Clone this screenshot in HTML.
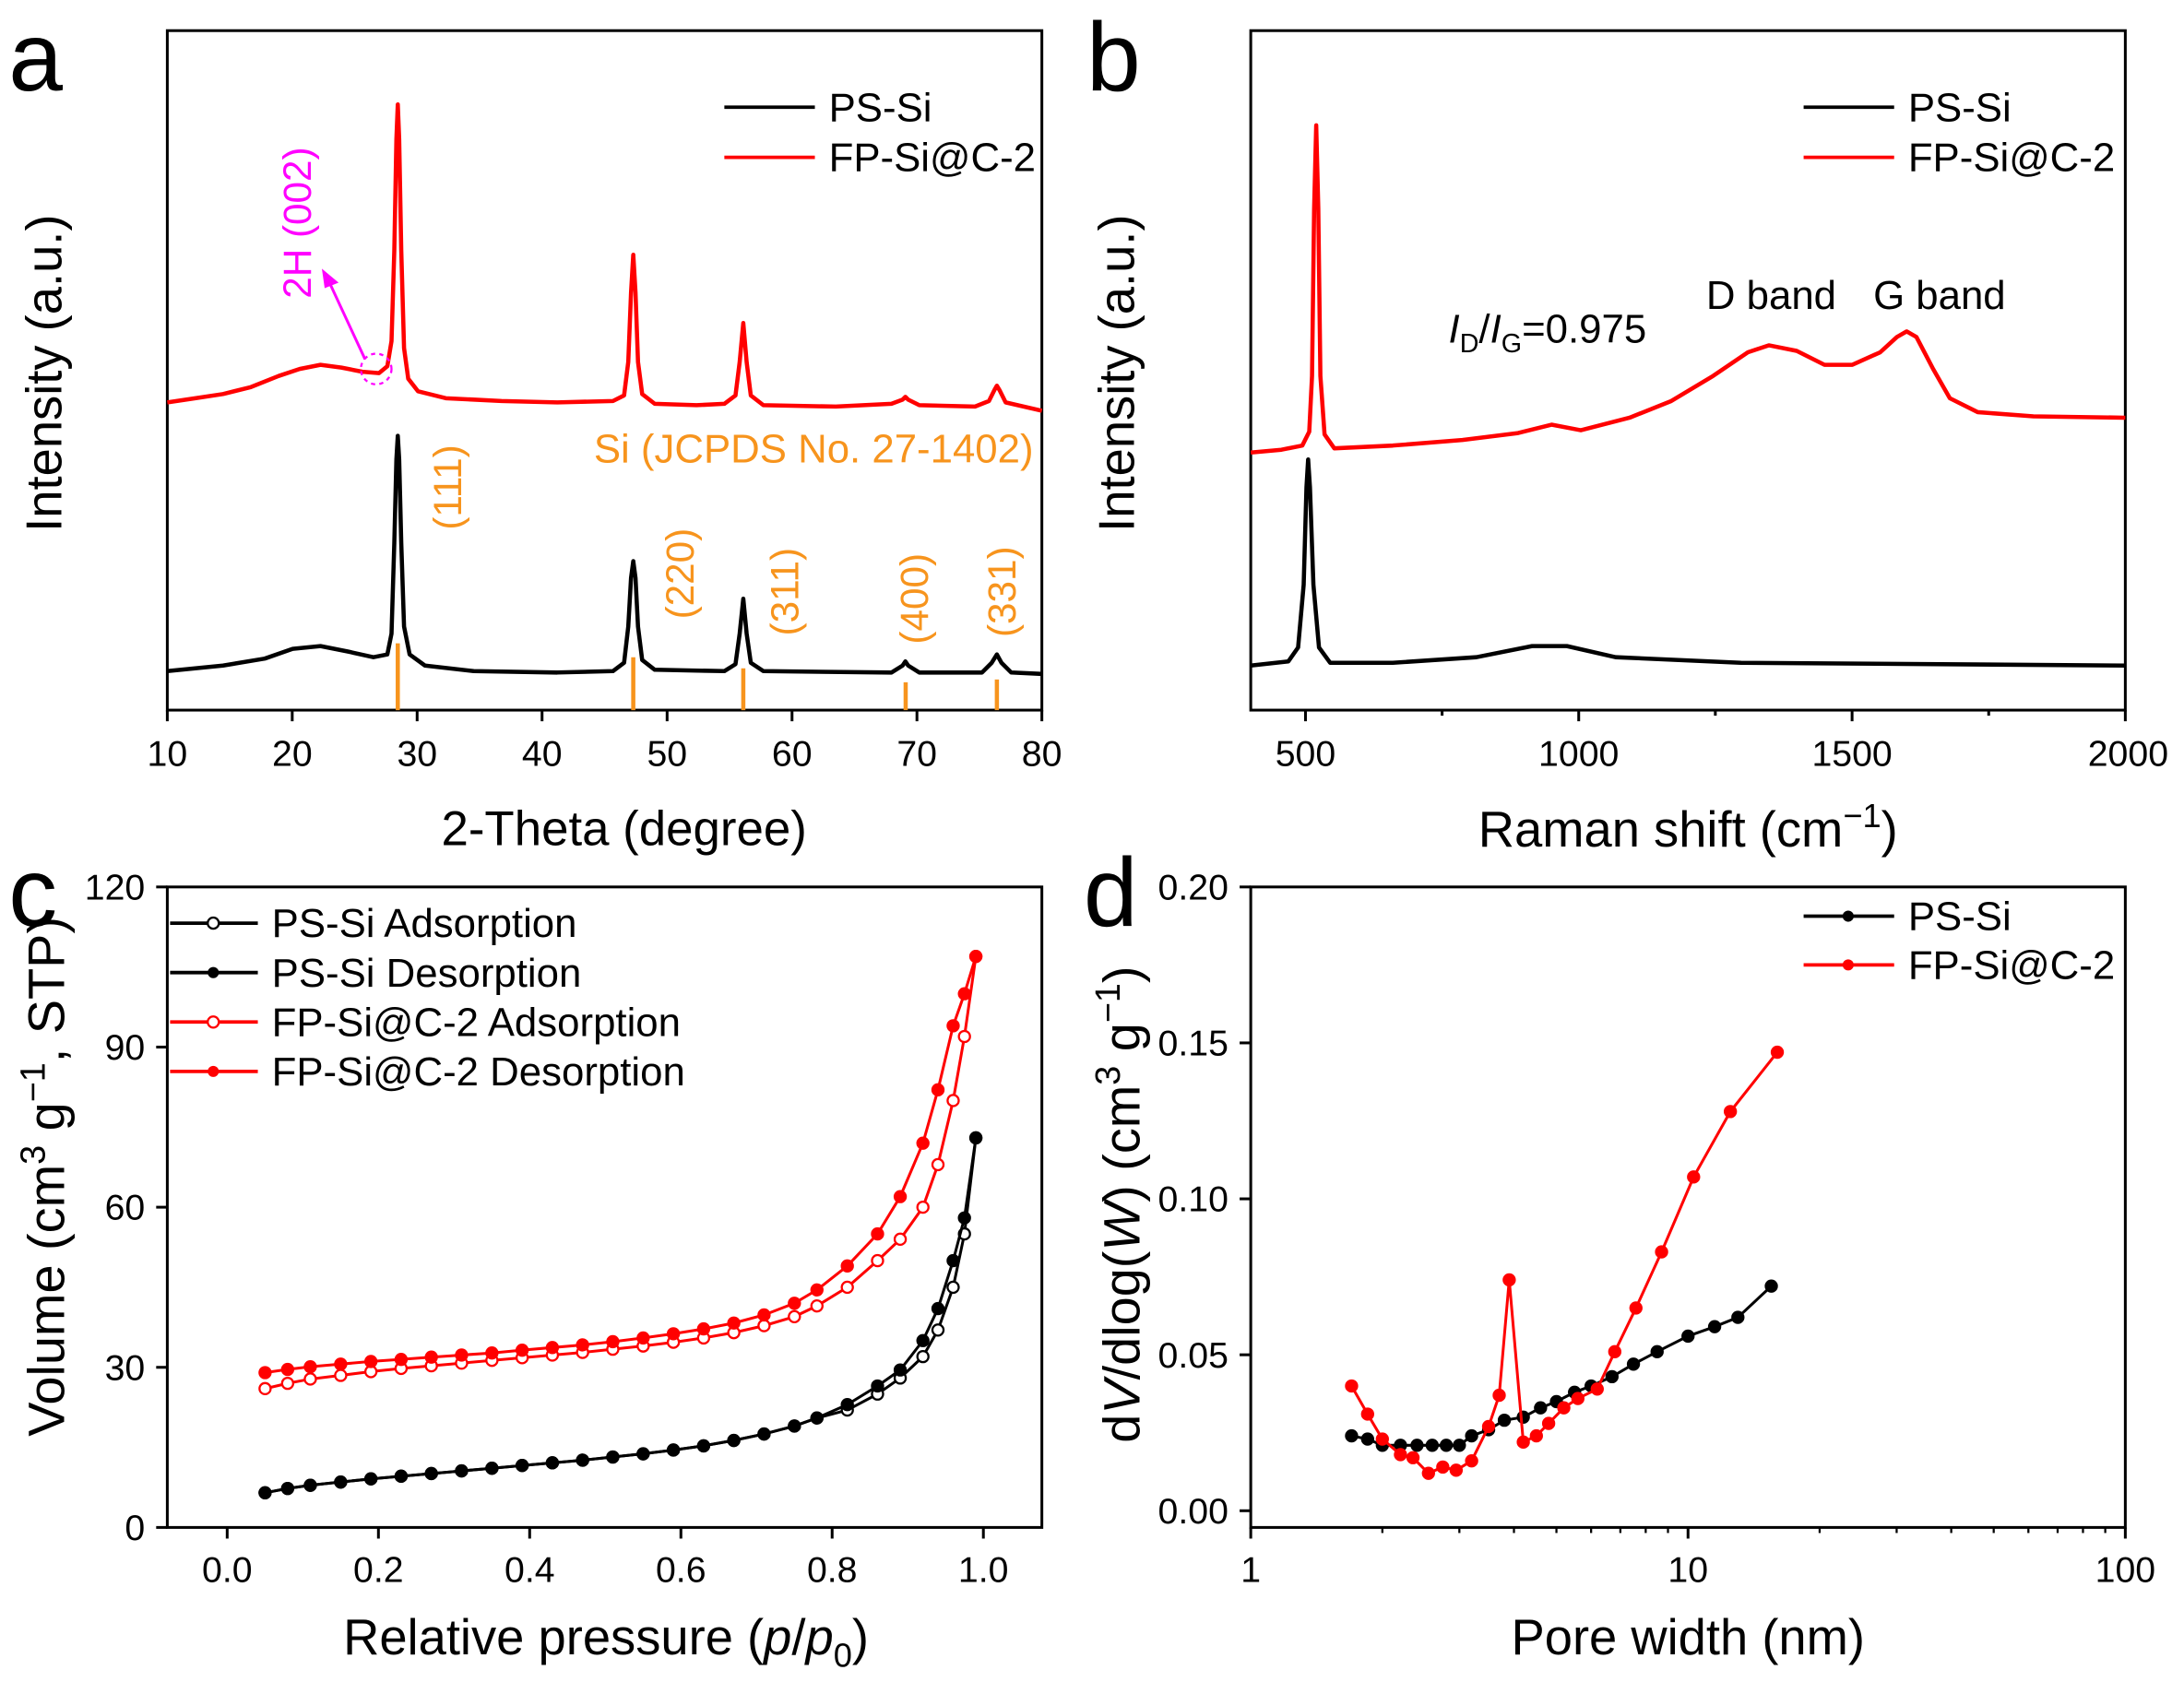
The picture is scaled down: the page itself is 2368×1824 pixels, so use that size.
<!DOCTYPE html>
<html><head><meta charset="utf-8"><style>
html,body{margin:0;padding:0;background:#fff}
svg{display:block}
text{font-family:"Liberation Sans",Arial,sans-serif}
</style></head><body>
<svg width="2368" height="1824" viewBox="0 0 1568 1208" xmlns="http://www.w3.org/2000/svg">
<defs>
<marker id="kf" markerUnits="userSpaceOnUse" markerWidth="12" markerHeight="12" refX="6" refY="6"><circle cx="6" cy="6" r="4" fill="#000" stroke="#000" stroke-width="1.5"/></marker>
<marker id="ko" markerUnits="userSpaceOnUse" markerWidth="12" markerHeight="12" refX="6" refY="6"><circle cx="6" cy="6" r="4" fill="#fff" stroke="#000" stroke-width="1.5"/></marker>
<marker id="rf" markerUnits="userSpaceOnUse" markerWidth="12" markerHeight="12" refX="6" refY="6"><circle cx="6" cy="6" r="4" fill="#f00" stroke="#f00" stroke-width="1.5"/></marker>
<marker id="ro" markerUnits="userSpaceOnUse" markerWidth="12" markerHeight="12" refX="6" refY="6"><circle cx="6" cy="6" r="4" fill="#fff" stroke="#f00" stroke-width="1.5"/></marker>
</defs>
<rect width="1568" height="1208" fill="#fff"/>

<!-- Panel a -->
<rect x="120" y="22" width="628" height="488" fill="none" stroke="#000" stroke-width="2"/>
<g stroke="#000" stroke-width="2">
<line x1="120" y1="510" x2="120" y2="518"/><line x1="209.7" y1="510" x2="209.7" y2="518"/><line x1="299.4" y1="510" x2="299.4" y2="518"/><line x1="389.1" y1="510" x2="389.1" y2="518"/><line x1="478.9" y1="510" x2="478.9" y2="518"/><line x1="568.6" y1="510" x2="568.6" y2="518"/><line x1="658.3" y1="510" x2="658.3" y2="518"/><line x1="748" y1="510" x2="748" y2="518"/>
</g>
<g font-size="26" text-anchor="middle">
<text x="120" y="550">10</text><text x="209.7" y="550">20</text><text x="299.4" y="550">30</text><text x="389.1" y="550">40</text><text x="478.9" y="550">50</text><text x="568.6" y="550">60</text><text x="658.3" y="550">70</text><text x="748" y="550">80</text>
</g>
<path d="M120,289 L140,286 L160,283 L180,278 L200,270 L215,265 L230,262 L245,264 L260,267 L272,268 L278,263 L281,245 L283,180 L284.5,100 L285.5,75 L286.5,100 L288,180 L290,250 L293,272 L300,281 L320,286 L360,288 L400,289 L440,288 L448,284 L451,260 L453,210 L454.6,183 L456.2,210 L458,260 L461,283 L470,290 L500,291 L520,290 L528,284 L531,260 L533.6,232 L536,260 L539,284 L548,291 L600,292 L640,290 L648,287 L650,285 L652,287 L660,291 L700,292 L710,288 L714,280 L715.7,277 L717.5,280 L722,289 L748,295" fill="none" stroke="#f00" stroke-width="3" stroke-linejoin="round"/>
<path d="M120,482 L160,478 L190,473 L210,466 L230,464 L250,468 L268,472 L278,470 L281,455 L283,390 L284.5,330 L285.5,313 L286.5,330 L288,390 L290,450 L294,470 L305,478 L340,482 L400,483 L440,482 L448,476 L451,450 L453,415 L454.6,403 L456.2,415 L458,450 L461,474 L470,481 L520,482 L528,477 L531,455 L533.6,430 L536,455 L539,476 L548,482 L640,483 L648,478 L650,475 L652,478 L660,483 L705,483 L712,476 L715.7,470 L719,476 L726,483 L748,484" fill="none" stroke="#000" stroke-width="3" stroke-linejoin="round"/>
<g stroke="#f7941d" stroke-width="3">
<line x1="285.5" y1="462" x2="285.5" y2="510"/><line x1="454.6" y1="472" x2="454.6" y2="510"/><line x1="533.6" y1="480" x2="533.6" y2="510"/><line x1="650.2" y1="490" x2="650.2" y2="510"/><line x1="715.7" y1="488" x2="715.7" y2="510"/>
</g>
<text x="742" y="332" font-size="29" fill="#f7941d" text-anchor="end">Si (JCPDS No. 27-1402)</text>
<g font-size="28" fill="#f7941d" text-anchor="middle">
<text transform="translate(331 350) rotate(-90)">(111)</text>
<text transform="translate(498 412) rotate(-90)">(220)</text>
<text transform="translate(573 425) rotate(-90)">(311)</text>
<text transform="translate(666 430) rotate(-90)">(400)</text>
<text transform="translate(729 425) rotate(-90)">(331)</text>
</g>
<text transform="translate(223 160) rotate(-90)" font-size="28" fill="#f0f" text-anchor="middle">2H (002)</text>
<circle cx="270" cy="265" r="11" fill="none" stroke="#f0f" stroke-width="1.5" stroke-dasharray="3,3"/>
<line x1="262" y1="258" x2="236" y2="202" stroke="#f0f" stroke-width="2"/>
<polygon points="231,193 243,203 233,207" fill="#f0f"/>
<line x1="520" y1="77" x2="585" y2="77" stroke="#000" stroke-width="2.5"/><text x="595" y="87" font-size="29">PS-Si</text>
<line x1="520" y1="113" x2="585" y2="113" stroke="#f00" stroke-width="2.5"/><text x="595" y="123" font-size="29">FP-Si@C-2</text>
<text x="448" y="607" font-size="35" text-anchor="middle">2-Theta (degree)</text>
<text transform="translate(44 268) rotate(-90)" font-size="36" text-anchor="middle">Intensity (a.u.)</text>
<text x="6" y="65" font-size="70">a</text>

<!-- Panel b -->
<rect x="898" y="22" width="628" height="488" fill="none" stroke="#000" stroke-width="2"/>
<g stroke="#000" stroke-width="2">
<line x1="937.3" y1="510" x2="937.3" y2="518"/><line x1="1133.5" y1="510" x2="1133.5" y2="518"/><line x1="1329.8" y1="510" x2="1329.8" y2="518"/><line x1="1526" y1="510" x2="1526" y2="518"/>
<line x1="1035.4" y1="510" x2="1035.4" y2="514"/><line x1="1231.6" y1="510" x2="1231.6" y2="514"/><line x1="1427.9" y1="510" x2="1427.9" y2="514"/>
</g>
<g font-size="26" text-anchor="middle">
<text x="937.3" y="550">500</text><text x="1133.5" y="550">1000</text><text x="1329.8" y="550">1500</text><text x="1528" y="550">2000</text>
</g>
<path d="M898,325 L920,323 L935,320 L940,310 L942,270 L943.5,150 L945,90 L946.5,150 L948,270 L951,312 L958,322 L1000,320 L1050,316 L1090,311 L1114,305 L1135,309 L1170,300 L1200,288 L1230,270 L1255,253 L1270,248 L1290,252 L1310,262 L1330,262 L1350,253 L1362,242 L1369,238 L1376,242 L1388,265 L1400,286 L1420,296 L1460,299 L1526,300" fill="none" stroke="#f00" stroke-width="3" stroke-linejoin="round"/>
<path d="M898,478 L925,475 L932,465 L936,420 L938,350 L939.2,330 L940.5,350 L943,420 L947,465 L955,476 L1000,476 L1060,472 L1100,464 L1125,464 L1160,472 L1250,476 L1526,478" fill="none" stroke="#000" stroke-width="3" stroke-linejoin="round"/>
<line x1="1295" y1="77" x2="1360" y2="77" stroke="#000" stroke-width="2.5"/><text x="1370" y="87" font-size="29">PS-Si</text>
<line x1="1295" y1="113" x2="1360" y2="113" stroke="#f00" stroke-width="2.5"/><text x="1370" y="123" font-size="29">FP-Si@C-2</text>
<text x="1040" y="246" font-size="29"><tspan font-style="italic">I</tspan><tspan font-size="19" dy="7">D</tspan><tspan dy="-7">/</tspan><tspan font-style="italic">I</tspan><tspan font-size="19" dy="7">G</tspan><tspan dy="-7">=0.975</tspan></text>
<text x="1225" y="222" font-size="29">D band</text><text x="1345" y="222" font-size="29">G band</text>
<text x="1212" y="608" font-size="36" text-anchor="middle">Raman shift (cm<tspan font-size="24" dy="-14">−1</tspan><tspan dy="14">)</tspan></text>
<text transform="translate(814 268) rotate(-90)" font-size="36" text-anchor="middle">Intensity (a.u.)</text>
<text x="780" y="65" font-size="70">b</text>

<!-- Panel c -->
<rect x="120" y="637" width="628" height="460" fill="none" stroke="#000" stroke-width="2"/>
<g stroke="#000" stroke-width="2">
<line x1="163" y1="1097" x2="163" y2="1105"/><line x1="271.6" y1="1097" x2="271.6" y2="1105"/><line x1="380.2" y1="1097" x2="380.2" y2="1105"/><line x1="488.8" y1="1097" x2="488.8" y2="1105"/><line x1="597.4" y1="1097" x2="597.4" y2="1105"/><line x1="706" y1="1097" x2="706" y2="1105"/>
<line x1="112" y1="1097" x2="120" y2="1097"/><line x1="112" y1="982" x2="120" y2="982"/><line x1="112" y1="867" x2="120" y2="867"/><line x1="112" y1="752" x2="120" y2="752"/><line x1="112" y1="637" x2="120" y2="637"/>
</g>
<g font-size="26" text-anchor="middle">
<text x="163" y="1136">0.0</text><text x="271.6" y="1136">0.2</text><text x="380.2" y="1136">0.4</text><text x="488.8" y="1136">0.6</text><text x="597.4" y="1136">0.8</text><text x="706" y="1136">1.0</text>
</g>
<g font-size="26" text-anchor="end">
<text x="104" y="1106">0</text><text x="104" y="991">30</text><text x="104" y="876">60</text><text x="104" y="761">90</text><text x="104" y="646">120</text>
</g>
<polyline fill="none" stroke="#000" stroke-width="2" marker-start="url(#ko)" marker-mid="url(#ko)" marker-end="url(#ko)" points="190.2,1072.1 206.4,1069.0 222.7,1066.7 244.5,1064.4 266.2,1062.1 287.9,1060.2 309.6,1058.3 331.3,1056.4 353.1,1054.5 374.8,1052.5 396.5,1050.6 418.2,1048.7 439.9,1046.4 461.7,1044.1 483.4,1041.4 505.1,1038.4 526.8,1034.5 548.5,1029.9 570.3,1024.2 586.5,1018.4 608.3,1012.7 630.0,1001.2 646.3,989.7 662.6,974.3 673.4,955.2 684.3,924.5 692.4,886.2 700.6,817.2"/>
<polyline fill="none" stroke="#000" stroke-width="2" marker-start="url(#kf)" marker-mid="url(#kf)" marker-end="url(#kf)" points="190.2,1072.1 206.4,1069.0 222.7,1066.7 244.5,1064.4 266.2,1062.1 287.9,1060.2 309.6,1058.3 331.3,1056.4 353.1,1054.5 374.8,1052.5 396.5,1050.6 418.2,1048.7 439.9,1046.4 461.7,1044.1 483.4,1041.4 505.1,1038.4 526.8,1034.5 548.5,1029.9 570.3,1024.2 586.5,1018.4 608.3,1008.8 630.0,995.4 646.3,983.9 662.6,962.8 673.4,939.8 684.3,905.4 692.4,874.7 700.6,817.2"/>
<polyline fill="none" stroke="#f00" stroke-width="2" marker-start="url(#ro)" marker-mid="url(#ro)" marker-end="url(#ro)" points="190.2,997.3 206.4,993.5 222.7,990.4 244.5,987.8 266.2,985.1 287.9,982.8 309.6,980.9 331.3,979.0 353.1,977.0 374.8,975.1 396.5,973.2 418.2,971.3 439.9,969.0 461.7,966.7 483.4,964.0 505.1,960.9 526.8,957.1 548.5,952.1 570.3,945.6 586.5,937.9 608.3,924.5 630.0,905.4 646.3,890.0 662.6,867.0 673.4,836.4 684.3,790.4 692.4,744.4 700.6,686.9"/>
<polyline fill="none" stroke="#f00" stroke-width="2" marker-start="url(#rf)" marker-mid="url(#rf)" marker-end="url(#rf)" points="190.2,985.8 206.4,983.5 222.7,981.6 244.5,979.7 266.2,977.8 287.9,976.3 309.6,974.7 331.3,973.2 353.1,971.7 374.8,969.7 396.5,967.8 418.2,965.9 439.9,963.6 461.7,960.9 483.4,957.9 505.1,954.4 526.8,950.2 548.5,944.4 570.3,936.0 586.5,926.4 608.3,909.2 630.0,886.2 646.3,859.4 662.6,821.0 673.4,782.7 684.3,736.7 692.4,713.7 700.6,686.9"/>
<line x1="122" y1="663" x2="185" y2="663" stroke="#000" stroke-width="2.5"/><circle cx="153" cy="663" r="4" fill="#fff" stroke="#000" stroke-width="1.5"/><text x="195" y="673" font-size="29">PS-Si Adsorption</text>
<line x1="122" y1="698.5" x2="185" y2="698.5" stroke="#000" stroke-width="2.5"/><circle cx="153" cy="698.5" r="4" fill="#000"/><text x="195" y="708.5" font-size="29">PS-Si Desorption</text>
<line x1="122" y1="734" x2="185" y2="734" stroke="#f00" stroke-width="2.5"/><circle cx="153" cy="734" r="4" fill="#fff" stroke="#f00" stroke-width="1.5"/><text x="195" y="744" font-size="29">FP-Si@C-2 Adsorption</text>
<line x1="122" y1="769.5" x2="185" y2="769.5" stroke="#f00" stroke-width="2.5"/><circle cx="153" cy="769.5" r="4" fill="#f00"/><text x="195" y="779.5" font-size="29">FP-Si@C-2 Desorption</text>
<text x="435" y="1188" font-size="36" text-anchor="middle">Relative pressure (<tspan font-style="italic">p</tspan>/<tspan font-style="italic">p</tspan><tspan font-size="24" dy="9">0</tspan><tspan dy="-9">)</tspan></text>
<text transform="translate(46 845) rotate(-90)" font-size="37" text-anchor="middle">Volume (cm<tspan font-size="25" dy="-14">3</tspan><tspan dy="14"> g</tspan><tspan font-size="25" dy="-14">−1</tspan><tspan dy="14">, STP)</tspan></text>
<text x="6" y="665" font-size="70">c</text>

<!-- Panel d -->
<rect x="898" y="637" width="628" height="460" fill="none" stroke="#000" stroke-width="2"/>
<g stroke="#000" stroke-width="2">
<line x1="898" y1="1097" x2="898" y2="1105"/><line x1="1212" y1="1097" x2="1212" y2="1105"/><line x1="1526" y1="1097" x2="1526" y2="1105"/>
<line x1="890" y1="1085" x2="898" y2="1085"/><line x1="890" y1="973" x2="898" y2="973"/><line x1="890" y1="861" x2="898" y2="861"/><line x1="890" y1="749" x2="898" y2="749"/><line x1="890" y1="637" x2="898" y2="637"/>
</g>
<g stroke="#000" stroke-width="1.5">
<line x1="992.5" y1="1097" x2="992.5" y2="1101"/><line x1="1047.8" y1="1097" x2="1047.8" y2="1101"/><line x1="1087" y1="1097" x2="1087" y2="1101"/><line x1="1117.5" y1="1097" x2="1117.5" y2="1101"/><line x1="1142.4" y1="1097" x2="1142.4" y2="1101"/><line x1="1163.4" y1="1097" x2="1163.4" y2="1101"/><line x1="1181.6" y1="1097" x2="1181.6" y2="1101"/><line x1="1197.6" y1="1097" x2="1197.6" y2="1101"/>
<line x1="1306.5" y1="1097" x2="1306.5" y2="1101"/><line x1="1361.8" y1="1097" x2="1361.8" y2="1101"/><line x1="1401" y1="1097" x2="1401" y2="1101"/><line x1="1431.5" y1="1097" x2="1431.5" y2="1101"/><line x1="1456.4" y1="1097" x2="1456.4" y2="1101"/><line x1="1477.4" y1="1097" x2="1477.4" y2="1101"/><line x1="1495.6" y1="1097" x2="1495.6" y2="1101"/><line x1="1511.6" y1="1097" x2="1511.6" y2="1101"/>
</g>
<g font-size="26" text-anchor="middle">
<text x="898" y="1136">1</text><text x="1212" y="1136">10</text><text x="1526" y="1136">100</text>
</g>
<g font-size="26" text-anchor="end">
<text x="882" y="1094">0.00</text><text x="882" y="982">0.05</text><text x="882" y="870">0.10</text><text x="882" y="758">0.15</text><text x="882" y="646">0.20</text>
</g>
<polyline fill="none" stroke="#000" stroke-width="2" marker-start="url(#kf)" marker-mid="url(#kf)" marker-end="url(#kf)" points="970.4,1031.2 981.9,1033.5 992.5,1038 1005.5,1038 1017.4,1038 1028.3,1038 1038.4,1038 1047.8,1038 1056.6,1031.2 1068.8,1026.8 1080.1,1020 1093.7,1017.8 1106.1,1011.1 1117.5,1006.6 1130.5,999.9 1142.4,995.4 1157.4,988.7 1172.8,979.7 1189.8,970.8 1212,959.6 1231.1,952.8 1247.8,946.1 1271.8,923.7"/>
<polyline fill="none" stroke="#f00" stroke-width="2" marker-start="url(#rf)" marker-mid="url(#rf)" marker-end="url(#rf)" points="970.4,995.4 981.9,1015.6 992.5,1033.5 1005.5,1044.7 1014.5,1046.9 1025.6,1058.1 1035.9,1053.6 1045.5,1055.9 1056.6,1049.2 1068.8,1024.5 1076.4,1002.1 1083.6,919.2 1093.7,1035.7 1103.1,1031.2 1111.9,1022.3 1122.8,1011.1 1132.9,1004.4 1146.8,997.6 1159.4,970.8 1174.6,939.4 1193,899.1 1216,845.3 1242.4,798.3 1276.1,755.7"/>
<line x1="1295" y1="658" x2="1360" y2="658" stroke="#000" stroke-width="2.5"/><circle cx="1327" cy="658" r="4" fill="#000"/><text x="1370" y="668" font-size="29">PS-Si</text>
<line x1="1295" y1="693" x2="1360" y2="693" stroke="#f00" stroke-width="2.5"/><circle cx="1327" cy="693" r="4" fill="#f00"/><text x="1370" y="703" font-size="29">FP-Si@C-2</text>
<text x="1212" y="1188" font-size="36" text-anchor="middle">Pore width (nm)</text>
<text transform="translate(818 865) rotate(-90)" font-size="37" text-anchor="middle">d<tspan font-style="italic">V</tspan>/dlog(<tspan font-style="italic">W</tspan>) (cm<tspan font-size="25" dy="-14">3</tspan><tspan dy="14"> g</tspan><tspan font-size="25" dy="-14">−1</tspan><tspan dy="14">)</tspan></text>
<text x="778" y="665" font-size="70">d</text>
</svg>
</body></html>
